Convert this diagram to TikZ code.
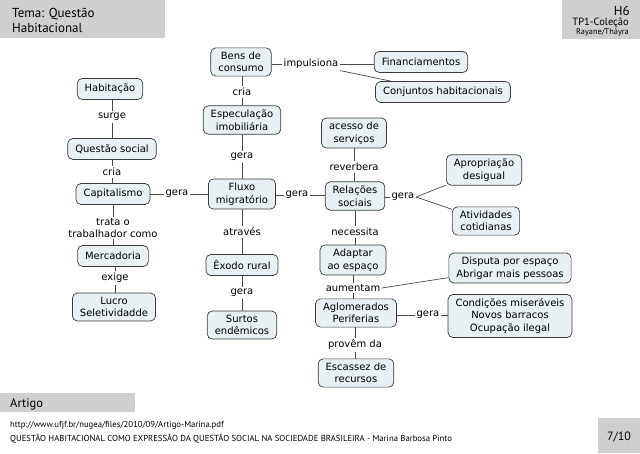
\documentclass[tikz,border=0pt]{standalone}
\usepackage{fontspec}
\setmainfont{DejaVu Sans}
\newfontfamily\hdr{PT Sans}
\definecolor{boxfill}{HTML}{E8F0F4}
\definecolor{boxline}{HTML}{3A3A3A}
\definecolor{conline}{HTML}{4A4A4A}
\definecolor{hdrgray}{HTML}{CFCFCF}
\tikzset{
  concept/.style={draw=boxline, line width=0.7pt, fill=boxfill, rounded corners=5pt,
    inner xsep=7.5pt, inner ysep=4pt, minimum height=21pt, align=center,
    font=\fontsize{10}{12.5}\selectfont},
  lbl/.style={inner sep=1.5pt, align=center, font=\fontsize{10}{12}\selectfont},
  conn/.style={draw=conline, line width=0.7pt},
}
\begin{document}
\begin{tikzpicture}[x=1pt,y=-1pt]
\path[use as bounding box] (0,0) rectangle (640,453);
% header
\fill[hdrgray] (0,0) rectangle (165,38);
\node[anchor=base west, inner sep=0, font=\hdr\fontsize{13}{15}\selectfont] (t1) at (12,17) {Tema: Questão};
\node[anchor=base west, inner sep=0, font=\hdr\fontsize{13}{15}\selectfont] (t2) at (12,32) {Habitacional};
\fill[hdrgray] (562,0) rectangle (640,39);
\node[anchor=base east, inner sep=0, font=\hdr\fontsize{13}{15}\selectfont] (h6) at (630,15) {H6};
\node[anchor=base east, inner sep=0, font=\hdr\fontsize{10.5}{12}\selectfont] (tp) at (629,25) {TP1-Coleção};
\node[anchor=base east, inner sep=0, font=\hdr\fontsize{8.3}{10}\selectfont] (ra) at (629,34) {Rayane/Tháyra};
% footer
\fill[hdrgray] (0,393) rectangle (135,412);
\node[anchor=base west, inner sep=0, font=\hdr\fontsize{12.5}{14}\selectfont] (art) at (10,407) {Artigo};
\node[anchor=base west, inner sep=0, font=\hdr\fontsize{8.7}{10}\selectfont] (url) at (10,427) {http://www.ufjf.br/nugea/files/2010/09/Artigo-Marina.pdf};
\node[anchor=base west, inner sep=0, font=\hdr\fontsize{8.7}{10}\selectfont] (tit) at (10,441) {QUESTÃO HABITACIONAL COMO EXPRESSÃO DA QUESTÃO SOCIAL NA SOCIEDADE BRASILEIRA - Marina Barbosa Pinto};
\fill[hdrgray] (598,418) rectangle (640,453);
\node[inner sep=0, font=\hdr\fontsize{12}{14}\selectfont] (pg) at (619,437) {7/10};

% left column
\node[concept] (hab) at (110,89) {Habitação};
\node[lbl] (surge) at (112,117) {surge};
\node[concept] (qs) at (112,149) {Questão social};
\node[lbl] (cria1) at (112,172) {cria};
\node[concept] (cap) at (113,194) {Capitalismo};
\node[lbl] (gera1) at (177,194) {gera};
\node[lbl] (trata) at (113,228) {trata o\\trabalhador como};
\node[concept] (merc) at (113,256) {Mercadoria};
\node[lbl] (exige) at (115,278) {exige};
\node[concept] (lucro) at (114,307) {Lucro\\Seletividadde};

% middle column
\node[concept] (bens) at (241,62) {Bens de\\consumo};
\node[lbl] (imp) at (311,64) {impulsiona};
\node[concept] (fin) at (421,62) {Financiamentos};
\node[concept] (conj) at (443,92) {Conjuntos habitacionais};
\node[lbl] (cria2) at (242,92) {cria};
\node[concept] (espec) at (242,120) {Especulação\\imobiliária};
\node[lbl] (gera2) at (242,157) {gera};
\node[concept] (fluxo) at (242,194) {Fluxo\\migratório};
\node[lbl] (gera3) at (297,195) {gera};
\node[lbl] (atraves) at (242,232) {através};
\node[concept] (exodo) at (242,265) {Êxodo rural};
\node[lbl] (gera4) at (242,293) {gera};
\node[concept] (surtos) at (242,325) {Surtos\\endêmicos};

% right column
\node[concept] (acesso) at (354,133) {acesso de\\serviços};
\node[lbl] (reverb) at (354,167) {reverbera};
\node[concept] (rel) at (355,196) {Relações\\sociais};
\node[lbl] (gera5) at (403,197) {gera};
\node[concept] (apr) at (484,170) {Apropriação\\desigual};
\node[concept] (ativ) at (486,221) {Atividades\\cotidianas};
\node[lbl] (necess) at (355,232) {necessita};
\node[concept] (adapt) at (353,260) {Adaptar\\ao espaço};
\node[lbl] (aument) at (353,288) {aumentam};
\node[concept] (disp) at (510,268) {Disputa por espaço\\Abrigar mais pessoas};
\node[concept] (aglom) at (356,313) {Aglomerados\\Periferias};
\node[lbl] (gera6) at (428,315) {gera};
\node[concept] (cond) at (510,316) {Condições miseráveis\\Novos barracos\\Ocupação ilegal};
\node[lbl] (provem) at (355,345) {provêm da};
\node[concept] (escass) at (356,373) {Escassez de\\recursos};

% connectors
\draw[conn] (hab.south -| surge) -- (surge.north);
\draw[conn] (surge.south) -- (qs.north -| surge);
\draw[conn] (qs.south -| cria1) -- (cria1.north);
\draw[conn] (cria1.south) -- (cap.north -| cria1);
\draw[conn] (cap.east |- gera1) -- (gera1.west);
\draw[conn] (gera1.east) -- (fluxo.west |- gera1);
\draw[conn] (cap.south -| trata) -- (trata.north);
\draw[conn] (trata.south) -- (merc.north -| trata);
\draw[conn] (merc.south -| exige) -- (exige.north);
\draw[conn] (exige.south) -- (lucro.north -| exige);

\draw[conn] (bens.east |- imp) -- (imp.west);
\draw[conn] (imp.east) -- (fin.west |- imp);
\draw[conn] (imp.south east) -- (conj);
\draw[conn] (bens.south -| cria2) -- (cria2.north);
\draw[conn] (cria2.south) -- (espec.north -| cria2);
\draw[conn] (espec.south -| gera2) -- (gera2.north);
\draw[conn] (gera2.south) -- (fluxo.north -| gera2);
\draw[conn] (fluxo.east |- gera3) -- (gera3.west);
\draw[conn] (gera3.east) -- (rel.west |- gera3);
\draw[conn] (fluxo.south -| atraves) -- (atraves.north);
\draw[conn] (atraves.south) -- (exodo.north -| atraves);
\draw[conn] (exodo.south -| gera4) -- (gera4.north);
\draw[conn] (gera4.south) -- (surtos.north -| gera4);

\draw[conn] (acesso.south -| reverb) -- (reverb.north);
\draw[conn] (reverb.south) -- (rel.north -| reverb);
\draw[conn] (rel.east |- gera5) -- (gera5.west);
\draw[conn] (gera5.east) -- (apr);
\draw[conn] (gera5.east) -- (ativ);
\draw[conn] (rel.south -| necess) -- (necess.north);
\draw[conn] (necess.south) -- (adapt.north -| necess);
\draw[conn] (adapt.south -| aument) -- (aument.north);
\draw[conn] (aument.south) -- (aglom.north -| aument);
\draw[conn] (aument.east) -- (disp);
\draw[conn] (aglom.east |- gera6) -- (gera6.west);
\draw[conn] (gera6.east) -- (cond.west |- gera6);
\draw[conn] (aglom.south -| provem) -- (provem.north);
\draw[conn] (provem.south) -- (escass.north -| provem);
\end{tikzpicture}
\end{document}
